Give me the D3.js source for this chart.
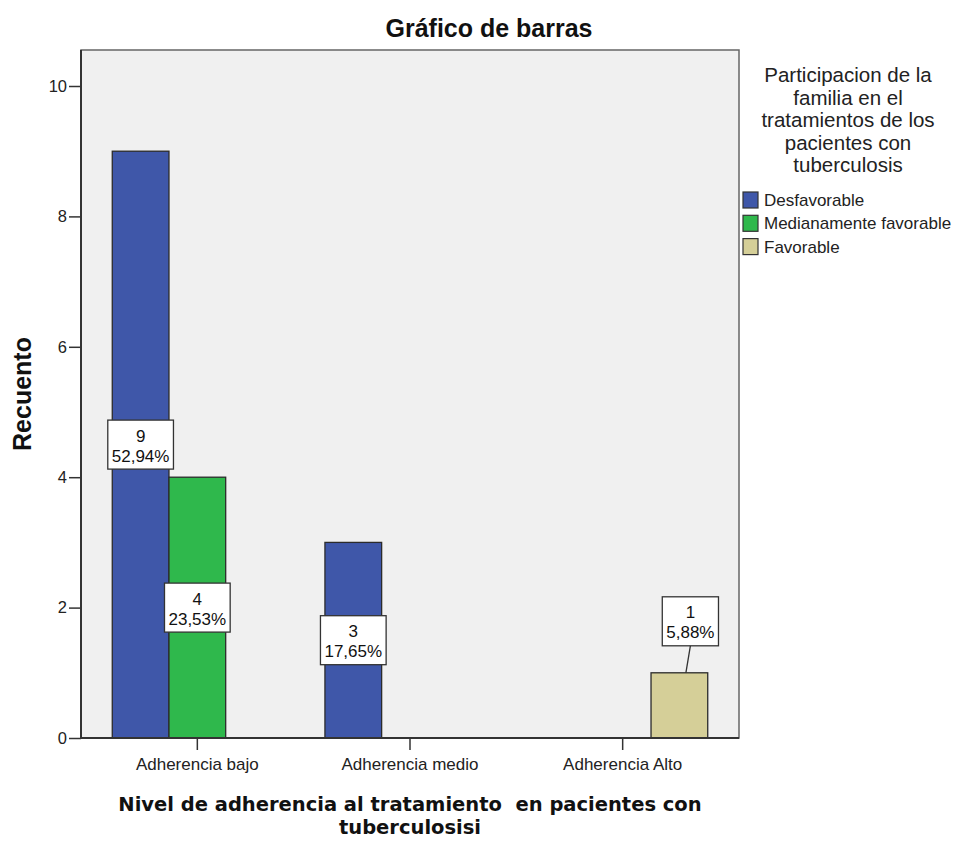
<!DOCTYPE html>
<html><head><meta charset="utf-8">
<script src="https://cdn.jsdelivr.net/npm/d3@7"></script>
<style>body{margin:0;background:#fff}svg{display:block}text{white-space:pre}</style>
</head><body>
<svg id="c" width="956" height="841"></svg>
<script>
// ---- data ----
const categories = ["Adherencia bajo", "Adherencia medio", "Adherencia Alto"];
const seriesNames = ["Desfavorable", "Medianamente favorable", "Favorable"];
const desfavorable = [9, 3, 0];
const medianamente = [4, 0, 0];
const favorable = [0, 0, 1];
const yTicks = [0, 2, 4, 6, 8, 10];
const title = "Gráfico de barras";
const yTitle = "Recuento";
const xTitleLines = ["Nivel de adherencia al tratamiento  en pacientes con", "tuberculosisi"];
const legendTitleLines = ["Participacion de la", "familia en el", "tratamientos de los", "pacientes con", "tuberculosis"];
const colors = ["#3f57a9", "#2fb84c", "#d5cf98"];

// ---- layout ----
const svg = d3.select("#c");
const P = {left: 81, right: 739, top: 50, bottom: 738};
const sans = "'Liberation Sans', Arial, sans-serif";
const dv = "'DejaVu Sans', sans-serif";

const seriesValues = [desfavorable, medianamente, favorable];
const total = d3.sum(seriesValues.flat());
const data = [];
categories.forEach((c, i) => seriesNames.forEach((s, j) => {
  data.push({cat: c, ser: s, j, v: seriesValues[j][i]});
}));

const y = d3.scaleLinear().domain([0, 10]).range([P.bottom, 86]);
const x = d3.scaleBand().domain(categories).range([P.left + 10, P.right - 10]);
const bw = x.bandwidth();
const xi = d3.scaleBand().domain(seriesNames).range([bw * 0.1, bw * 0.9]);

// plot background
svg.append("rect").attr("x", P.left).attr("y", P.top)
  .attr("width", P.right - P.left).attr("height", P.bottom - P.top)
  .attr("fill", "#f0f0f0").attr("stroke", "#666").attr("stroke-width", 1.5);

// bars
svg.append("g").selectAll("rect").data(data.filter(d => d.v > 0)).join("rect")
  .attr("x", d => x(d.cat) + xi(d.ser))
  .attr("y", d => y(d.v))
  .attr("width", xi.bandwidth())
  .attr("height", d => y(0) - y(d.v))
  .attr("fill", d => colors[d.j])
  .attr("stroke", "#2b2b2b").attr("stroke-width", 1.3);

// axes
const ya = svg.append("g").attr("transform", `translate(${P.left},0)`)
  .call(d3.axisLeft(y).tickValues(yTicks).tickSize(12).tickPadding(2));
ya.select(".domain").remove();
ya.selectAll("line").attr("stroke", "#333").attr("stroke-width", 1.5);
ya.selectAll("text").attr("font-family", sans).attr("font-size", 16.5).attr("fill", "#222");

const xa = svg.append("g").attr("transform", `translate(0,${P.bottom})`)
  .call(d3.axisBottom(x).tickSize(12).tickPadding(8));
xa.select(".domain").remove();
xa.selectAll("line").attr("stroke", "#333").attr("stroke-width", 1.5);
xa.selectAll("text").attr("font-family", sans).attr("font-size", 17).attr("fill", "#222");

// axis lines (left & bottom, darker)
svg.append("line").attr("x1", P.left).attr("x2", P.left).attr("y1", P.top).attr("y2", P.bottom + 1)
  .attr("stroke", "#333").attr("stroke-width", 2);
svg.append("line").attr("x1", P.left - 1).attr("x2", P.right).attr("y1", P.bottom).attr("y2", P.bottom)
  .attr("stroke", "#333").attr("stroke-width", 2);

// value labels
const fmt = d3.format(".2f");
const lg = svg.append("g");
data.filter(d => d.v > 0).forEach(d => {
  const cx = x(d.cat) + xi(d.ser) + xi.bandwidth() / 2;
  const pct = fmt(d.v / total * 100).replace(".", ",") + "%";
  const g = lg.append("g");
  const t1 = g.append("text").text(d.v);
  const t2 = g.append("text").text(pct);
  g.selectAll("text").attr("font-family", sans).attr("font-size", 17).attr("text-anchor", "middle").attr("fill", "#111");
  const w = t2.node().getComputedTextLength() + 8;
  const h = 49;
  const barH = y(0) - y(d.v);
  let bx = cx, by;
  if (barH > h * 1.8) {
    by = (y(0) + y(d.v)) / 2;
  } else {
    bx = cx + 11;
    by = y(d.v) - 27 - h / 2;
    g.append("line").attr("x1", bx).attr("y1", by + h / 2).attr("x2", cx + 6.5).attr("y2", y(d.v))
      .attr("stroke", "#333").attr("stroke-width", 1.3);
  }
  g.insert("rect", "text").attr("x", bx - w / 2).attr("y", by - h / 2).attr("width", w).attr("height", h)
    .attr("fill", "#fff").attr("stroke", "#333").attr("stroke-width", 1.3);
  t1.attr("x", bx).attr("y", by - 3);
  t2.attr("x", bx).attr("y", by + 17);
});

// title
svg.append("text").attr("x", 489).attr("y", 37).attr("text-anchor", "middle")
  .attr("font-family", sans).attr("font-weight", "bold").attr("font-size", 25).attr("fill", "#111")
  .text(title);

// y title
svg.append("text").attr("transform", "translate(31,394) rotate(-90)").attr("text-anchor", "middle")
  .attr("font-family", sans).attr("font-weight", "bold").attr("font-size", 25).attr("fill", "#111")
  .text(yTitle);

// x title
xTitleLines.forEach((l, i) => {
  svg.append("text").attr("x", 410).attr("y", 811 + i * 23).attr("text-anchor", "middle")
    .attr("font-family", dv).attr("font-weight", "bold")
    .attr("font-size", 19.5).attr("fill", "#111").text(l);
});

// legend
legendTitleLines.forEach((l, i) => {
  svg.append("text").attr("x", 848).attr("y", 82 + i * 22.5).attr("text-anchor", "middle")
    .attr("font-family", sans).attr("font-size", 20.5).attr("fill", "#222").text(l);
});
const leg = svg.append("g").selectAll("g").data(seriesNames).join("g")
  .attr("transform", (d, i) => `translate(743,${192 + i * 23.3})`);
leg.append("rect").attr("width", 15).attr("height", 16)
  .attr("fill", (d, i) => colors[i]).attr("stroke", "#333").attr("stroke-width", 1.2);
leg.append("text").attr("x", 21).attr("y", 14).attr("font-family", sans).attr("font-size", 17)
  .attr("fill", "#222").text(d => d);
</script>
</body></html>
